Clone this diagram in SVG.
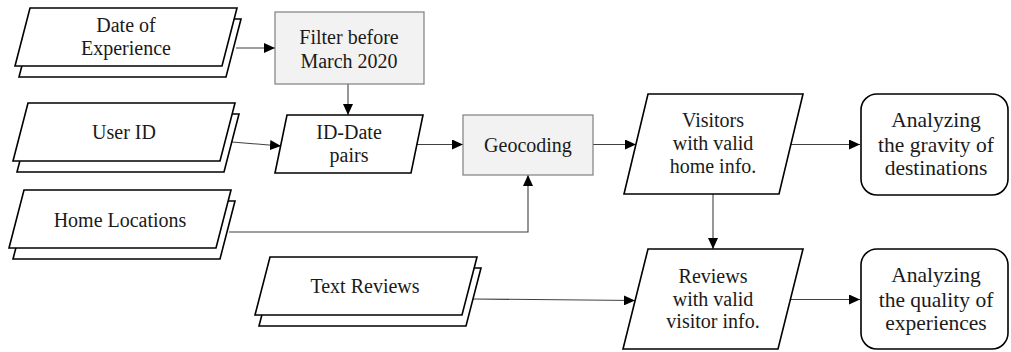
<svg xmlns="http://www.w3.org/2000/svg" width="1011" height="352" viewBox="0 0 1011 352">
  <style>
    .doc { fill: #ffffff; stroke: #000000; stroke-width: 1.6; stroke-linejoin: miter; }
    .data { fill: #ffffff; stroke: #000000; stroke-width: 1.6; }
    .proc { fill: #f2f2f2; stroke: #7f7f7f; stroke-width: 1.2; }
    .term { fill: #ffffff; stroke: #000000; stroke-width: 1.6; }
    text { font-family: "Liberation Serif", serif; font-size: 20px; fill: #1a1a1a; text-anchor: middle; }
    text.big { font-size: 21.5px; }
    .edge { fill: none; stroke: #404040; stroke-width: 1.1; marker-end: url(#arrow); }
  </style>
  <defs>
    <marker id="arrow" markerUnits="userSpaceOnUse" markerWidth="12" markerHeight="10" refX="11" refY="5" orient="auto">
      <path d="M0,0 L11,5 L0,10 Z" fill="#000000"/>
    </marker>
    <!-- stacked input shape: a parallelogram with a copy behind it -->
    <g id="stack">
      <path class="doc" d="M19,11 L226,11 L211,69 L4,69 Z"/>
      <path class="doc" d="M15,0 L222,0 L207,58 L0,58 Z"/>
    </g>
  </defs>

  <rect width="1011" height="352" fill="#ffffff"/>

  <!-- connectors -->
  <g id="connectors">
    <path class="edge" d="M236,48 L275,48"/>
    <path class="edge" d="M348,84 L348,115"/>
    <path class="edge" d="M232,142 L281,146"/>
    <path class="edge" d="M417,144.5 L463,144.5"/>
    <path class="edge" d="M229,232 L528,232 L528,175"/>
    <path class="edge" d="M593,144.5 L636,144.5"/>
    <path class="edge" d="M791,144.5 L860,144.5"/>
    <path class="edge" d="M713,194 L713,249"/>
    <path class="edge" d="M473,299 L635,300.5"/>
    <path class="edge" d="M791,299.5 L860,299.5"/>
  </g>

  <g id="date-of-experience">
    <use href="#stack" x="15" y="8"/>
    <text x="126" y="32">Date of</text>
    <text x="126" y="55">Experience</text>
  </g>

  <g id="user-id">
    <use href="#stack" x="13" y="103"/>
    <text x="124" y="139">User ID</text>
  </g>

  <g id="home-locations">
    <use href="#stack" x="9" y="190"/>
    <text x="120" y="227">Home Locations</text>
  </g>

  <g id="text-reviews">
    <use href="#stack" x="255" y="257"/>
    <text x="365" y="293">Text Reviews</text>
  </g>

  <g id="filter">
    <rect class="proc" x="275" y="12" width="149" height="72"/>
    <text x="349" y="44">Filter before</text>
    <text x="349" y="68">March 2020</text>
  </g>

  <g id="id-date-pairs">
    <path class="data" d="M287,115 L423,115 L411,173 L275,173 Z"/>
    <text x="349" y="139">ID-Date</text>
    <text x="349" y="162">pairs</text>
  </g>

  <g id="geocoding">
    <rect class="proc" x="463" y="115" width="130" height="60"/>
    <text x="528" y="152">Geocoding</text>
  </g>

  <g id="visitors">
    <path class="data" d="M648,94 L803,94 L779,194 L624,194 Z"/>
    <text x="713" y="127">Visitors</text>
    <text x="713" y="150">with valid</text>
    <text x="713" y="173">home info.</text>
  </g>

  <g id="reviews">
    <path class="data" d="M648,249 L803,249 L778,349 L623,349 Z"/>
    <text x="713" y="283">Reviews</text>
    <text x="713" y="306">with valid</text>
    <text x="713" y="328">visitor info.</text>
  </g>

  <g id="gravity">
    <rect class="term" x="861" y="94" width="147" height="101" rx="16" ry="16"/>
    <text class="big" x="936" y="127">Analyzing</text>
    <text class="big" x="936" y="152">the gravity of</text>
    <text class="big" x="936" y="175">destinations</text>
  </g>

  <g id="quality">
    <rect class="term" x="861" y="249" width="147" height="100" rx="16" ry="16"/>
    <text class="big" x="936" y="282">Analyzing</text>
    <text class="big" x="936" y="307">the quality of</text>
    <text class="big" x="936" y="330">experiences</text>
  </g>
</svg>
